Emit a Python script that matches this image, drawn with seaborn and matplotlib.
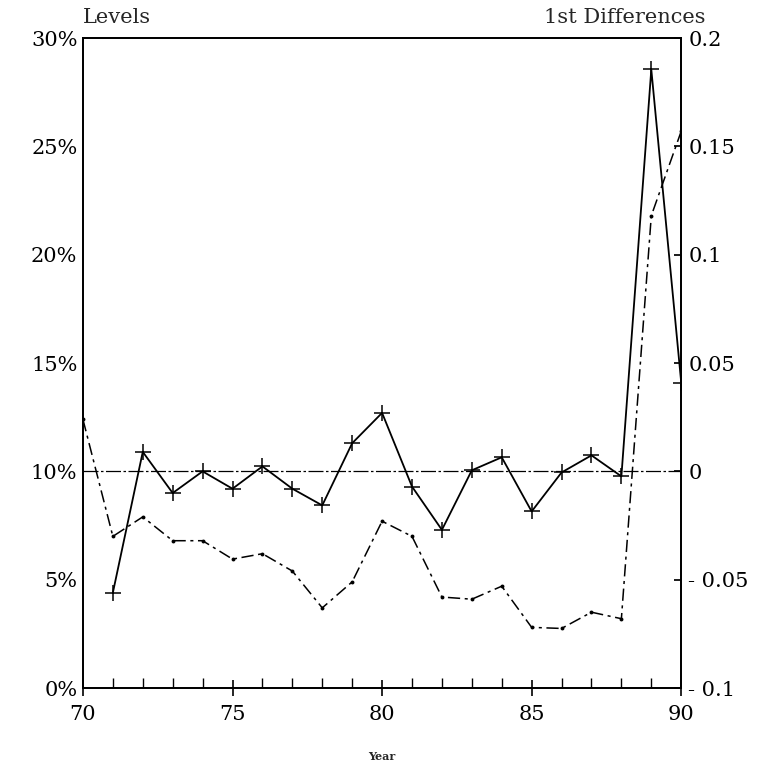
import numpy as np
import pandas as pd
import matplotlib.pyplot as plt
import seaborn as sns
from matplotlib.ticker import MultipleLocator, FuncFormatter

sns.set_theme(style="white")
plt.rcParams['font.family'] = ['DejaVu Serif']

# valores
anos = [70, 71, 72, 73, 74, 75, 76, 77, 78, 79, 80,
        81, 82, 83, 84, 85, 86, 87, 88, 89, 90]
niveis = [12.4, 7.0, 7.9, 6.8, 6.8, 5.95, 6.2, 5.4, 3.7, 4.9, 7.7,
          7.0, 4.2, 4.1, 4.7, 2.8, 2.75, 3.5, 3.2, 21.8, 25.7]
anos_dif = anos[1:]
diferencas = [-0.056, 0.009, -0.010, 0.000, -0.008, 0.0023, -0.008, -0.0157, 0.013, 0.027,
              -0.007, -0.027, 0.0005, 0.0065, -0.0185, -0.0005, 0.0074, -0.0023, 0.1855, 0.041]

df_niv = pd.DataFrame({'Ano': anos, 'Nivel': niveis})
df_dif = pd.DataFrame({'Ano': anos_dif, 'Dif': diferencas})

fig = plt.figure(figsize=(7.68, 7.77), dpi=100)
ax = fig.add_axes([0.108, 0.1145, 0.779, 0.8365])
ax2 = ax.twinx()

sns.lineplot(data=df_niv, x='Ano', y='Nivel', ax=ax, color='black', lw=1.1,
             marker='o', markersize=2.8, markeredgewidth=0)
ax.lines[-1].set_dashes((8, 3, 2, 3))

ax2.axhline(0, color='black', lw=0.9, dashes=(12, 2, 2, 2))
sns.lineplot(data=df_dif, x='Ano', y='Dif', ax=ax2, color='black', lw=1.3,
             marker='+', markersize=12, markeredgewidth=1.1,
             markeredgecolor='black')

ax.set_xlim(70, 90)
ax.set_ylim(0, 30)
ax2.set_ylim(-0.1, 0.2)


def rotulo_dif(v, p):
    if abs(v) < 1e-9:
        return "0"
    s = f"{abs(v):.2f}".rstrip('0')
    return ("- " + s) if v < 0 else s


ax.xaxis.set_major_locator(MultipleLocator(5))
ax.xaxis.set_minor_locator(MultipleLocator(1))
ax.yaxis.set_major_locator(MultipleLocator(5))
ax.yaxis.set_major_formatter(FuncFormatter(lambda v, p: f"{v:.0f}%"))
ax2.yaxis.set_major_locator(MultipleLocator(0.05))
ax2.yaxis.set_major_formatter(FuncFormatter(rotulo_dif))

ax.tick_params(axis='x', which='major', bottom=True, direction='inout', length=12,
               width=1.2, labelsize=15, pad=6, colors='black')
ax.tick_params(axis='x', which='minor', bottom=True, direction='in', length=7, width=1,
               colors='black')
ax.tick_params(axis='y', direction='in', length=0, labelsize=15, pad=4, labelcolor='black')
ax2.tick_params(axis='y', right=True, direction='in', length=5, labelsize=15, pad=5,
                labelcolor='black', color='black')

for a in (ax, ax2):
    for s in a.spines.values():
        s.set_color('black')
        s.set_linewidth(1.3)

ax.set_xlabel("Year", fontsize=8, fontweight='bold', labelpad=20)
ax.set_ylabel("")
ax2.set_ylabel("")

fig.text(0.108, 0.977, "Levels", fontsize=15, ha='left', va='center')
fig.text(0.918, 0.977, "1st Differences", fontsize=15, ha='right', va='center')

fig.savefig("out.png", dpi=100)
